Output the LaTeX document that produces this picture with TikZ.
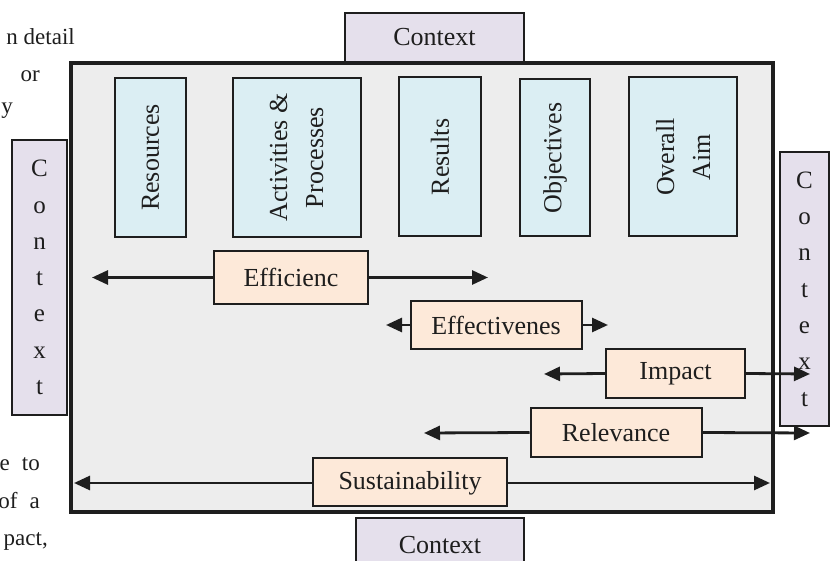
\documentclass[tikz,border=0pt]{standalone}
\usepackage{fontspec}
\setmainfont{Liberation Serif}
\usetikzlibrary{arrows.meta}
\definecolor{framegray}{HTML}{EDEDED}
\definecolor{bluefill}{HTML}{DBEEF3}
\definecolor{orangefill}{HTML}{FDE9D9}
\definecolor{ctxfill}{HTML}{E5E0EC}
\definecolor{linec}{HTML}{1E1E1E}
\newcommand\lblfont{\fontsize{26}{36}\selectfont}
\newcommand\fragfont{\fontsize{23}{28}\selectfont}
\begin{document}
\begin{tikzpicture}[x=1pt,y=-1pt,
  framebox/.style={draw=linec, line width=4pt, fill=framegray},
  bluebox/.style={draw=linec, line width=2pt, fill=bluefill, rotate=90, inner sep=0pt, font=\lblfont, align=center, text=linec},
  orangebox/.style={draw=linec, line width=2pt, fill=orangefill, inner sep=0pt, font=\lblfont, text=linec},
  ctxbox/.style={draw=linec, line width=2pt, fill=ctxfill, inner sep=0pt, font=\lblfont, text=linec},
  vctx/.style={ctxbox, align=center, font=\fontsize{25}{36.3}\selectfont},
  link/.style={line width=2.8pt, draw=linec, -{Triangle[length=16pt,width=14pt]}},
  frag/.style={font=\fragfont, anchor=base east, inner sep=0pt, text=linec}]
\useasboundingbox (0,0) rectangle (831,561);
\clip (0,0) rectangle (831,561);
% text fragments around the figure
\node[frag] (f1) at (75,45) {n detail};
\node[frag] (f2) at (40,82) {or};
\node[frag] (f3) at (13,114) {y};
\node[frag] (f4) at (40,471) {e\hspace{12pt}to};
\node[frag] (f5) at (40,508) {of\hspace{12pt}a};
\node[frag] (f6) at (48,545) {pact,};
% main frame
\node[framebox, minimum width=702pt, minimum height=449pt] (frame) at (422,287.5) {};
% context boxes
\node[ctxbox, minimum width=179pt, minimum height=49pt] (ctxtop) at (434.5,37.5) {Context};
\node[ctxbox, minimum width=168pt, minimum height=54pt] (ctxbot) at (440,545) {Context};
\node[vctx, minimum width=55pt, minimum height=275pt] (ctxleft) at (39.5,277.5) {C\\o\\n\\t\\e\\x\\t};
\node[vctx, minimum width=49pt, minimum height=274pt] (ctxright) at (804.5,289) {C\\o\\n\\t\\e\\x\\t};
% top stage boxes (rotated: width = vertical extent)
\node[bluebox, minimum width=159pt, minimum height=71pt] (res) at (150.5,157.5) {Resources};
\node[bluebox, minimum width=159pt, minimum height=128pt] (act) at (296.5,157.5) {Activities \&\\Processes};
\node[bluebox, minimum width=159pt, minimum height=82pt] (rsl) at (440,157) {Results};
\node[bluebox, minimum width=157pt, minimum height=70pt] (obj) at (555,158) {Objectives};
\node[bluebox, minimum width=159pt, minimum height=108pt] (aim) at (683,157) {Overall\\Aim};
% criteria boxes
\node[orangebox, minimum width=154pt, minimum height=53pt] (eff) at (291,277.5) {Efficienc};
\node[orangebox, minimum width=171pt, minimum height=48pt] (efv) at (496,325) {Effectivenes};
\node[orangebox, minimum width=139pt, minimum height=49pt] (imp) at (675.5,373.5) {Impact};
\node[orangebox, minimum width=171pt, minimum height=49pt] (rel) at (616,432.5) {Relevance};
\node[orangebox, minimum width=194pt, minimum height=48pt] (sus) at (410,482) {};
\begin{scope}
\clip (313,458) rectangle (507,496);
\node[font=\lblfont, text=linec, inner sep=0pt] (sustxt) at (410,483) {Sustainability};
\end{scope}
% free ends of the arrows
\coordinate (effL) at (92,277.5);
\coordinate (effR) at (488,277.5);
\coordinate (efvL) at (386,325);
\coordinate (efvR) at (608,325);
\coordinate (impL) at (544,374);
\coordinate (impR) at (810,374);
\coordinate (relL) at (424,433);
\coordinate (relR) at (810,433);
\coordinate (susL) at (74,483);
\coordinate (susR) at (770,483);
% arrows
\draw[link] (eff.west) -- (effL);
\draw[link] (eff.east) -- (effR);
\draw[link] (efv.west) -- (efvL);
\draw[link] (efv.east) -- (efvR);
\draw[link] (imp.west) -- (impL);
\draw[link] (imp.east) -- (impR);
\draw[link] (rel.west) -- (relL);
\draw[link] (rel.east) -- (relR);
\draw[link] (sus.west |- susL) -- (susL);
\draw[link] (sus.east |- susR) -- (susR);
\end{tikzpicture}
\end{document}
